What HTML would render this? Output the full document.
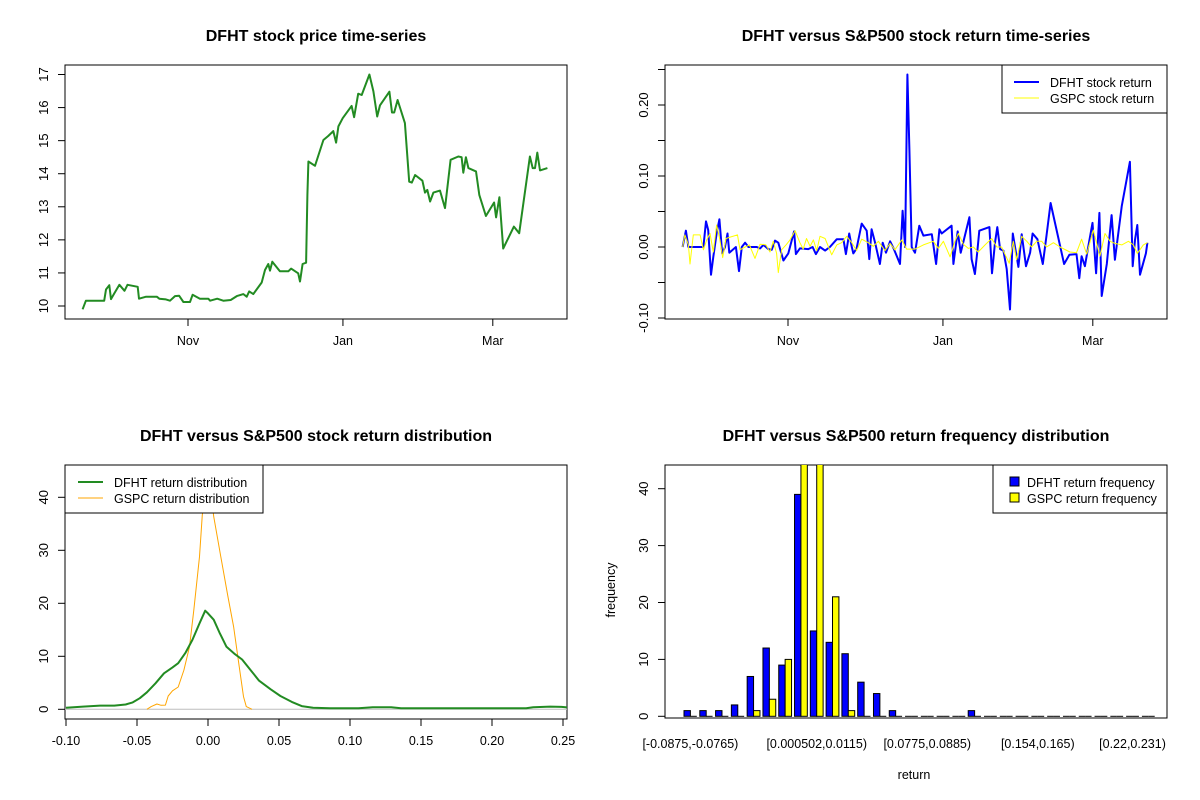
<!DOCTYPE html>
<html><head><meta charset="utf-8"><style>
html,body{margin:0;padding:0;background:#fff;}
svg{display:block;font-family:"Liberation Sans",Arial,sans-serif;}
</style></head><body>
<svg id="s" width="1200" height="800" viewBox="0 0 1200 800"></svg>
<script>
// Panel 1: price (day offset from Nov 1)
const priceDays=[-41.5,-40.2,-33,-32.3,-31,-30.3,-29,-27,-25,-23.8,-19.8,-19.3,-16.5,-12.3,-11.3,-8.7,-7.1,-5.1,-3.5,-1.8,0.8,1.8,4.7,8,8.7,11.5,13.9,16.8,19.2,21.8,23.1,24.1,25.7,29,30.3,31.6,32.3,33.2,36.2,39.5,40.6,43.4,44.1,45.1,46.5,47,47.4,50,53.3,55.2,57.2,58.3,59.2,60.9,64.4,65.4,67,68.4,71.4,73,74.5,75.6,79.3,80.3,81.2,82.5,85.4,87.1,88.1,89.4,92.3,93.3,94.2,95.3,96.6,99.2,101.2,103.4,106.4,107.7,108.4,109.4,110.4,113.4,114.7,117.3,120.5,121.3,122.6,124.1,128.3,130.4,134.6,135.7,136.6,137.5,138.6,141.5];
const priceVals=[9.90,10.16,10.16,10.50,10.63,10.21,10.38,10.64,10.46,10.64,10.58,10.22,10.28,10.28,10.22,10.20,10.16,10.30,10.31,10.12,10.12,10.34,10.22,10.22,10.16,10.22,10.16,10.18,10.30,10.36,10.28,10.44,10.36,10.71,11.09,11.27,11.07,11.34,11.05,11.05,11.13,10.99,10.74,11.27,11.31,13.36,14.37,14.24,15.02,15.14,15.29,14.94,15.43,15.68,16.05,15.71,16.42,16.38,17.00,16.49,15.73,16.07,16.48,15.85,15.85,16.23,15.53,13.76,13.73,13.96,13.79,13.43,13.51,13.16,13.43,13.49,12.96,14.42,14.52,14.50,14.03,14.50,14.17,14.07,13.36,12.72,13.13,12.68,13.29,11.74,12.40,12.20,14.52,14.17,14.17,14.64,14.10,14.17];
const dateTickDays=[0,61,120];
const dateTickLabels=["Nov","Jan","Mar"];
const priceTicks=[10,11,12,13,14,15,16,17];
// Panel 2: returns
const dfhtDays=[-41.5,-40.2,-39.2,-33.3,-32.3,-31.4,-30.3,-29.4,-28.1,-27,-25.9,-24.8,-23.8,-23.1,-20.5,-19.3,-18.2,-16.9,-15.6,-12.3,-11,-9.7,-7.7,-6.4,-5.1,-3.8,-1.8,0.1,2.4,3.1,4.7,8,9.7,11,12.6,14.6,16.5,19.2,21.8,22.8,24.1,25.1,25.7,27,29,31,32,32.9,34.3,36.2,37.3,38.6,40.2,41.7,44.1,45.1,46.1,47,47.8,48.7,50,51.7,53.3,56.6,58.3,59.6,60.5,64.4,65.1,66.8,68,71.4,72.3,73.6,74.5,75.3,79.3,80.3,81.5,82.4,83.5,84.8,86.1,87.4,88.5,89.8,90.7,92,93.7,95.3,96.3,98.2,100.3,101.8,103.4,108.7,110.8,113.6,114.7,115.6,116.9,118.2,119.9,121.3,122.6,123.5,125.5,127.4,128.7,131.4,134.6,135.7,136.6,137.5,138.6,140.9,141.5];
const dfhtRet=[0,.023,0,0,.036,.024,-.039,-.014,.019,.039,-.009,0,.019,-.008,0,-.034,0,.006,0,0,-.002,.003,-.003,-.004,.009,.006,-.019,-.009,.022,-.010,-.002,-.003,0,-.010,0,-.005,0,.011,.011,-.010,.019,0,-.009,-.002,.033,.023,-.017,.025,.006,-.024,.006,-.008,.008,-.003,-.024,.051,0,.243,.137,0,-.008,.030,.016,.018,-.024,.025,.019,.030,-.024,.022,-.008,.042,-.017,-.038,-.008,.023,.028,-.037,.006,.028,-.003,-.005,-.031,-.088,.019,-.009,-.028,.018,-.027,-.008,.019,.011,-.024,.017,.062,-.024,-.011,-.010,-.044,-.013,-.027,0,.034,-.037,.048,-.069,-.024,.045,-.018,.058,.120,-.027,.010,.031,-.039,-.009,.006];
const gspcDays=[-41.5,-40.6,-39.2,-38.6,-37.3,-34.6,-33.3,-32,-30.7,-29.4,-28.1,-26.8,-25.7,-24.4,-22.8,-19.9,-18.9,-16.9,-15.2,-13,-11,-8.7,-7.1,-5.8,-4.5,-3.8,-2.5,-0.8,0.8,2.8,4.7,6,7.3,8.7,10,11.3,12.6,14.6,17.2,19.2,21.1,23.1,25.1,27,29,31.6,33.6,35.6,38.2,40.2,42.1,44.8,46.7,50,53.3,57.2,59.2,61.2,63.8,65.7,67.1,69,71,73,74.9,77.6,80.2,82.2,84.1,87.1,88.7,90,92,94,95.9,97.9,99.9,101.8,104.5,107.1,111,113.6,115.6,117.6,120.2,122.8,124.8,126.8,128.7,131.4,134,136,137.5,139.9,141.5];
const gspcRet=[0,.017,.003,-.024,.017,.017,-.004,.010,.019,-.007,.031,.010,-.015,.012,.014,.017,-.004,0,.003,-.016,.004,.003,-.007,.008,-.009,-.036,-.004,.003,.010,.023,.006,-.003,.012,.001,.010,-.005,.015,.012,-.011,.003,.006,.015,.006,-.005,.011,.006,.001,.008,-.005,.005,-.004,.010,-.003,-.003,.003,.008,-.002,.008,-.014,.008,.019,.004,-.002,0,-.007,.003,.012,0,0,-.023,.008,-.018,.015,.008,0,.008,.008,0,.006,0,-.007,-.008,.011,-.010,.024,-.013,.019,.008,.005,.003,.008,.003,-.009,.003,.006];
const retTicks=[-0.10,-0.05,0,0.05,0.10,0.15,0.20,0.25];
const retTickLabels=["-0.10","","0.00","","0.10","","0.20",""];
// Panel 3: densities
const dfhtDensX=[-0.100,-0.088,-0.076,-0.066,-0.058,-0.053,-0.048,-0.043,-0.037,-0.031,-0.025,-0.021,-0.016,-0.011,-0.006,-0.002,0.000,0.004,0.008,0.013,0.019,0.024,0.030,0.036,0.044,0.051,0.059,0.066,0.074,0.086,0.106,0.116,0.129,0.136,0.224,0.229,0.241,0.249,0.256];
const dfhtDensY=[0.3,0.5,0.7,0.7,0.9,1.3,2.1,3.2,4.9,6.8,7.9,8.7,10.6,13.1,16.2,18.6,18.1,16.9,14.5,11.8,10.4,9.4,7.4,5.4,3.8,2.5,1.4,0.6,0.3,0.2,0.2,0.4,0.4,0.2,0.2,0.4,0.5,0.45,0.3];
const gspcDensX=[-0.043,-0.040,-0.036,-0.033,-0.030,-0.028,-0.025,-0.021,-0.017,-0.013,-0.010,-0.006,-0.004,-0.001,0.002,0.004,0.009,0.014,0.018,0.022,0.025,0.027,0.031];
const gspcDensY=[0,0.5,1.0,0.75,0.8,2.5,3.5,4.2,7.4,11.8,18.7,28.8,36.7,41,41,36.4,28.8,21.3,15.6,8.1,2.4,0.5,0];
const densXTicks=[-0.10,-0.05,0,0.05,0.10,0.15,0.20,0.25];
const densXLabels=["-0.10","-0.05","0.00","0.05","0.10","0.15","0.20","0.25"];
const densYTicks=[0,10,20,30,40];
// Panel 4: histogram
const binLabels=["[-0.0875,-0.0765)","","","","","","","","[0.000502,0.0115)","","","","","","","[0.0775,0.0885)","","","","","","","[0.154,0.165)","","","","","","[0.22,0.231)",""];
const dfhtFreq=[1,1,1,2,7,12,9,39,15,13,11,6,4,1,0,0,0,0,1,0,0,0,0,0,0,0,0,0,0,0];
const gspcFreq=[0,0,0,0,1,3,10,46,45,21,1,0,0,0,0,0,0,0,0,0,0,0,0,0,0,0,0,0,0,0];
const freqTicks=[0,10,20,30,40];

const NS="http://www.w3.org/2000/svg";
const svg=document.getElementById('s');
function mk(tag,attrs,parent){const e=document.createElementNS(NS,tag);for(const k in attrs)e.setAttribute(k,attrs[k]);(parent||svg).appendChild(e);return e;}
function txt(x,y,s,size,anchor,parent,extra){const t=mk('text',Object.assign({x:x,y:y,'font-size':size,'text-anchor':anchor||'middle',fill:'#000'},extra||{}),parent);t.textContent=s;return t;}

function panelBox(x0,y0,x1,y1,name,title){
  const g=mk('g',{});
  
  
  const r=mk('rect',{x:x0,y:y0,width:x1-x0,height:y1-y0,fill:'none',stroke:'#000','stroke-width':1},g);
  
  
  const t=txt((x0+x1)/2,41,title,16,'middle',g,{'font-weight':'bold'});
  t.setAttribute('y',y0-24);
  
  
  return g;
}
function yAxis(g,x0,ticks,labels,fy,name){
  const ax=mk('g',{},g);
  
  
  const ys=ticks.map(fy);
  mk('line',{x1:x0,x2:x0,y1:Math.min(...ys),y2:Math.max(...ys),stroke:'#000'},ax);
  ticks.forEach((v,i)=>{
    const y=fy(v);
    mk('line',{x1:x0-7,x2:x0,y1:y,y2:y,stroke:'#000'},ax);
    if(labels[i]!==''){
      const t=txt(x0-17,y,labels[i],13,'middle',ax,{transform:'rotate(-90 '+(x0-17)+' '+y+')'});
      
      
    }
  });
}
function xAxis(g,y0,ticks,labels,fx,name,line,dy){
  const ax=mk('g',{},g);
  
  
  const xs=ticks.map(fx);
  if(line!==false){
    mk('line',{y1:y0,y2:y0,x1:Math.min(...xs),x2:Math.max(...xs),stroke:'#000'},ax);
  }
  ticks.forEach((v,i)=>{
    const x=fx(v);
    if(line!==false) mk('line',{x1:x,x2:x,y1:y0,y2:y0+7,stroke:'#000'},ax);
    if(labels[i]!==''){
      const t=txt(x,y0+(dy||26),labels[i],12.5,'middle',ax);
      
      
    }
  });
}
function poly(g,xs,ys,fx,fy,color,w,name){
  const pts=xs.map((v,i)=>fx(v).toFixed(1)+','+fy(ys[i]).toFixed(1)).join(' ');
  const p=mk('polyline',{points:pts,fill:'none',stroke:color,'stroke-width':w,'stroke-linejoin':'round'},g);
  
  
  return p;
}
const defs=mk('defs',{});
function clip(id,x0,y0,x1,y1){const c=mk('clipPath',{id:id},defs);mk('rect',{x:x0,y:y0,width:x1-x0,height:y1-y0},c);}
clip('c1',65,65,567,319);clip('c2',665,65,1167,319);clip('c3',65,465,567,719);clip('c4',665,465,1167,719);

const fxDate=d=>188+d*2.54;
{
  const g=panelBox(65,65,567,319,'price-panel','DFHT stock price time-series');
  const fy=p=>306-(p-10)*33.07;
  yAxis(g,65,priceTicks,priceTicks.map(String),fy,'price-y-axis');
  xAxis(g,319,dateTickDays,dateTickLabels,fxDate,'price-x-axis');
  const cg=mk('g',{'clip-path':'url(#c1)'},g);
  poly(cg,priceDays,priceVals,fxDate,fy,'#228B22',2,'dfht-price-line');
}
{
  const g=panelBox(665,65,1167,319,'return-panel','DFHT versus S&P500 stock return time-series');
  const fx=d=>788+d*2.54;
  const fy=r=>247-r*710;
  yAxis(g,665,retTicks,retTickLabels,fy,'return-y-axis');
  xAxis(g,319,dateTickDays,dateTickLabels,fx,'return-x-axis');
  const cg=mk('g',{'clip-path':'url(#c2)'},g);
  poly(cg,dfhtDays,dfhtRet,fx,fy,'#0000FF',2,'dfht-return-line');
  poly(cg,gspcDays,gspcRet,fx,fy,'#FFFF00',1,'gspc-return-line');
  const lg=mk('g',{},g);
  
  
  mk('rect',{x:1002,y:65,width:165,height:48,fill:'#fff',stroke:'#000'},lg);
  mk('line',{x1:1014,x2:1039,y1:82,y2:82,stroke:'#0000FF','stroke-width':2},lg);
  mk('line',{x1:1014,x2:1039,y1:98,y2:98,stroke:'#FFFF00','stroke-width':1},lg);
  const a=txt(1050,87,'DFHT stock return',12.5,'start',lg);
  
  
  const b=txt(1050,103,'GSPC stock return',12.5,'start',lg);
  
  
}
{
  const g=panelBox(65,465,567,719,'density-panel','DFHT versus S&P500 stock return distribution');
  const fx=x=>66+(x+0.1)*1420;
  const fy=d=>709.3-d*5.3;
  yAxis(g,65,densYTicks,densYTicks.map(String),fy,'density-y-axis');
  xAxis(g,719,densXTicks,densXLabels,fx,'density-x-axis');
  const cg=mk('g',{'clip-path':'url(#c3)'},g);
  const zl=mk('line',{x1:65,x2:567,y1:fy(0),y2:fy(0),stroke:'#bebebe'},cg);
  
  
  poly(cg,gspcDensX,gspcDensY,fx,fy,'#FFA500',1,'gspc-density-line');
  poly(cg,dfhtDensX,dfhtDensY,fx,fy,'#228B22',2,'dfht-density-line');
  const lg=mk('g',{},g);
  
  
  mk('rect',{x:65,y:465,width:198,height:48,fill:'#fff',stroke:'#000'},lg);
  mk('line',{x1:78,x2:103,y1:482,y2:482,stroke:'#228B22','stroke-width':2},lg);
  mk('line',{x1:78,x2:103,y1:498,y2:498,stroke:'#FFA500','stroke-width':1},lg);
  const a=txt(114,487,'DFHT return distribution',12.5,'start',lg);
  
  
  const b=txt(114,503,'GSPC return distribution',12.5,'start',lg);
  
  
}
{
  const g=panelBox(665,465,1167,718,'histogram-panel','DFHT versus S&P500 return frequency distribution');
  const fy=v=>716.3-v*5.69;
  const gx=i=>684+i*15.79;
  const bw=6.4;
  yAxis(g,665,freqTicks,freqTicks.map(String),fy,'frequency-y-axis');
  xAxis(g,718,binLabels.map((_,i)=>i),binLabels,i=>gx(i)+bw,'return-bin-axis',false,30);
  const cg=mk('g',{'clip-path':'url(#c4)'},g);
  function bar(x,v,color,name){
    let r;
    if(v>0){
      r=mk('rect',{x:x,y:fy(v),width:bw,height:fy(0)-fy(v),fill:color,stroke:'#000','stroke-width':1},cg);
    } else {
      r=mk('line',{x1:x,x2:x+bw,y1:fy(0),y2:fy(0),stroke:'#000','stroke-width':1},cg);
    }
    
    
  }
  dfhtFreq.forEach((v,i)=>bar(gx(i),v,'#0000FF','bar-dfht'));
  gspcFreq.forEach((v,i)=>bar(gx(i)+bw,v,'#FFFF00','bar-gspc'));
  const yl=txt(615,590,'frequency',12.5,'middle',g,{transform:'rotate(-90 615 590)'});
  
  
  const xl=txt(914,779,'return',12.5,'middle',g);
  
  
  const lg=mk('g',{},g);
  
  
  mk('rect',{x:993,y:465,width:174,height:48,fill:'#fff',stroke:'#000'},lg);
  mk('rect',{x:1010,y:477,width:9,height:9,fill:'#0000FF',stroke:'#000'},lg);
  mk('rect',{x:1010,y:493,width:9,height:9,fill:'#FFFF00',stroke:'#000'},lg);
  const a=txt(1027,487,'DFHT return frequency',12.5,'start',lg);
  
  
  const b=txt(1027,503,'GSPC return frequency',12.5,'start',lg);
  
  
}
</script>
</body></html>
